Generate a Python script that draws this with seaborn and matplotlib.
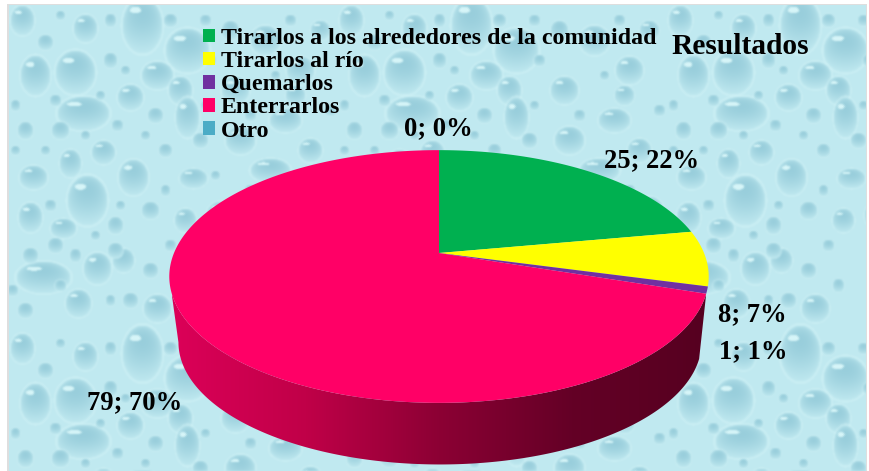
import numpy as np
import matplotlib
matplotlib.use("Agg")
import matplotlib.pyplot as plt
import seaborn as sns
from matplotlib.patches import Polygon, Patch
from matplotlib.colors import LinearSegmentedColormap

categories = ["Tirarlos a los alrededores de la comunidad", "Tirarlos al río",
              "Quemarlos", "Enterrarlos", "Otro"]
values = [25, 8, 1, 79, 0]
colors = ["#00B050", "#FFFF00", "#7030A0", "#FF0066", "#4BACC6"]
title = "Resultados"
label_pos = [(652, 161), (752, 315), (753, 352), (135, 403), (438, 129)]

sns.set_theme(style="white")
plt.rcParams["font.family"] = ["Liberation Serif", "DejaVu Serif"]
palette = sns.color_palette(colors)

# --- decorative water-drop wallpaper (a hand-placed tile, repeated) ---
TW, TH = 329, 328
drops = [(142,25,20,28),(187,50,22,22),(75,72,20,22),(35,75,15,20),(157,75,16,14),(83,113,26,17),
         (130,97,13,13),(180,90,12,14),(87,200,20,25),(133,177,15,18),(193,178,14,10),(33,177,14,12),
         (103,152,12,12),(70,163,11,14),(30,217,12,15),(63,228,13,10),(85,28,12,14),(22,20,12,15),
         (45,42,8,8),(155,115,8,8),(117,125,6,6),(187,117,12,20),(265,40,15,15),(235,90,14,14),
         (300,70,14,14),(285,120,16,12),(240,140,15,14),(310,150,12,12),(270,170,20,12),(220,215,14,14),
         (320,210,14,14),(295,95,10,10),(320,30,10,10),(230,30,9,10),(43,277,27,16),(97,268,14,16),
         (123,260,11,12),(78,303,13,14),(157,308,14,14),(115,250,8,8),(25,310,8,8),(55,245,8,8),
         (130,300,8,8),(150,270,8,8),(30,255,8,8),(110,60,7,8),(60,130,9,9),(25,130,8,9),(150,210,9,9),
         (185,220,11,12),(115,225,8,9),(165,150,7,7),(55,100,6,6),(110,20,6,7),(170,20,7,7),(200,140,8,8),
         (100,95,5,5),(15,105,5,6),(50,205,6,6),(120,205,5,5),(165,190,5,6),(210,60,6,6),(250,115,6,6),
         (275,75,5,5),(330,110,6,6),(95,235,5,5),(75,255,6,7),(170,245,6,6),(60,285,6,6),(110,300,5,6),
         (180,285,6,7),(12,290,6,6),(60,15,5,5),(205,105,5,5),(145,135,5,5),(85,135,5,5),(45,150,5,5),
         (15,150,5,5),(125,70,5,5),(205,20,6,6),(290,20,6,6),(250,190,6,6),(300,190,6,6),(215,175,5,5)]
H, W = 471, 870
yy, xx = np.mgrid[0:H, 0:W].astype(float)
base = np.array([192, 233, 240.0])
dark = np.array([132, 192, 209.0])
rim = np.array([214, 245, 248.0])
img = np.ones((H, W, 3)) * base
for cx, cy, rx, ry in drops:
    for ox in range(0, 3):
        for oy in range(0, 2):
            px, py = cx + ox * TW, cy + oy * TH
            d = ((xx - px) / rx) ** 2 + ((yy - py) / ry) ** 2
            halo = (d >= 1) & (d < 1.22)
            img[halo] = img[halo] * 0.6 + rim * 0.4
            m = d < 1
            vert = np.clip(0.95 - (yy[m] - (py - ry)) / (2 * ry) * 0.8, 0, 1)
            t = (vert * np.sqrt(1 - d[m]))[:, None]
            img[m] = base * (1 - t) + dark * t
            if rx >= 10:
                h = ((xx - px + rx * .35) / (rx * .28)) ** 2 + ((yy - py + ry * .55) / (ry * .12)) ** 2 < 1
                img[h] = rim
# gentle blur so the texture is soft, as in a scaled photo
for _ in range(2):
    img = (img + np.roll(img, 1, 0) + np.roll(img, -1, 0) + np.roll(img, 1, 1) + np.roll(img, -1, 1)) / 5
# white page and grey frame outside the wallpaper
img[:4, :] = 255; img[:, :7] = 255; img[:, 867:] = 255
img[4:5, 7:867] = 222; img[4:, 7:9] = 222; img[4:, 866:867] = 222

fig = plt.figure(figsize=(8.70, 4.71), dpi=100)
ax = fig.add_axes([0, 0, 1, 1])
ax.imshow(img.astype(np.uint8), extent=(0, 870, 471, 0), aspect="auto", zorder=0)
ax.set_xlim(0, 870); ax.set_ylim(471, 0); ax.axis("off")

# --- perspective projection of the pie disc ---
k = 0.186
def project(a, cx=439.0, cy=253.0, B=265.0, A=122.0):
    s, c = np.sin(a), np.cos(a)
    w = 1 + k * s
    return cx + B * c / w, cy - A * s / w

def project_low(a):
    return project(a, 440.0, 319.5, 257.0, 118.0)

total = sum(values)
fracs = np.array(values) / total
edges = np.pi / 2 - 2 * np.pi * np.concatenate([[0], np.cumsum(fracs)])

# side wall of the largest slice, running from its start to the left silhouette
idx = int(np.argmax(values))
left_tangent = -np.pi + np.arcsin(k)
arc = np.linspace(edges[idx], left_tangent, 200)
top_x, top_y = project(arc)
low_x, low_y = project_low(arc)
wall = np.column_stack([np.r_[top_x, low_x[::-1]], np.r_[top_y, low_y[::-1]]])
grad = sns.blend_palette(["#DC0058", "#C00048", "#8C0034", "#640026", "#560020"], 256)
cmap = LinearSegmentedColormap.from_list("wall", grad)
im = ax.imshow(np.linspace(0, 1, 256)[None, :], cmap=cmap, extent=(172, 706, 471, 230),
               aspect="auto", zorder=2)
ax.set_xlim(0, 870); ax.set_ylim(471, 0)
clip = Polygon(wall, closed=True, transform=ax.transData, fc="none", ec="none")
ax.add_patch(clip)
im.set_clip_path(clip)

# top face of each slice
for i, col in enumerate(palette):
    if values[i] == 0:
        continue
    a = np.linspace(edges[i], edges[i + 1], 300)
    x, y = project(a)
    ax.add_patch(Polygon(np.column_stack([np.r_[439.0, x], np.r_[253.0, y]]), closed=True,
                         fc=col, ec="none", zorder=3))

# data labels
for v, (lx, ly) in zip(values, label_pos):
    ax.text(lx, ly, f"{v}; {round(100 * v / total)}%", ha="center", va="center",
            fontsize=19.2, fontweight="bold", color="black", zorder=5)

ax.text(740, 46, title, ha="center", va="center", fontsize=21.2, fontweight="bold",
        color="black", zorder=5)

handles = [Patch(fc=c, ec="none") for c in palette]
leg = ax.legend(handles, categories, loc="upper left", bbox_to_anchor=(203 / 870, 1 - 28 / 471),
                frameon=False, prop={"size": 17.2, "weight": "bold"}, labelspacing=0.09,
                handlelength=0.5, handleheight=0.5, handletextpad=0.25,
                borderpad=0, borderaxespad=0, labelcolor="black")
leg.set_zorder(5)

fig.savefig("out.png", dpi=100)
